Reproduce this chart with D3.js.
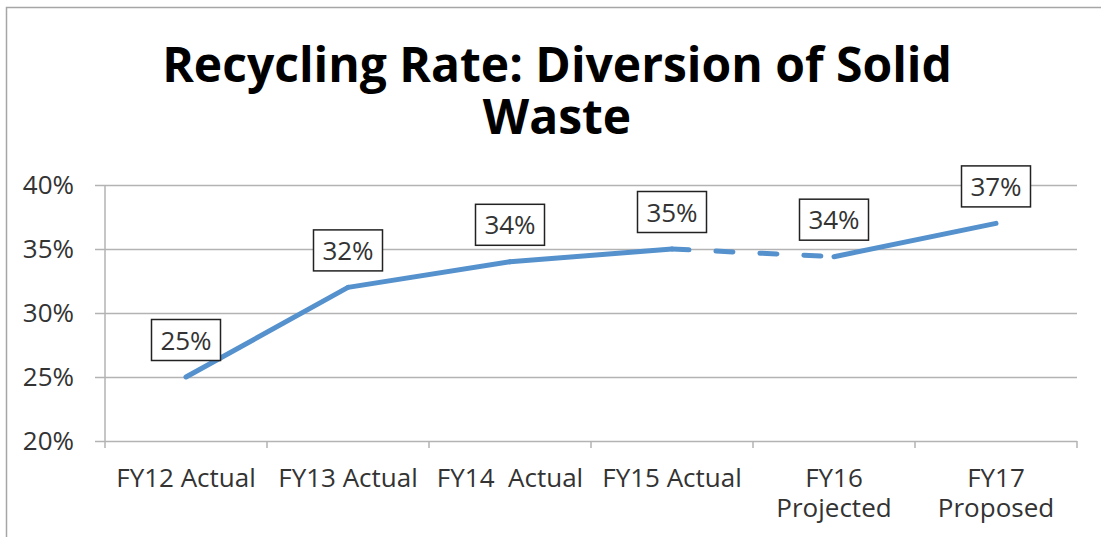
<!DOCTYPE html>
<html>
<head>
<meta charset="utf-8">
<script src="https://cdn.jsdelivr.net/npm/d3@7"></script>
<style>
  body { margin: 0; background: #fff; }
  svg { display: block; font-family: "Open Sans", sans-serif; }
</style>
</head>
<body>
<div id="chart"></div>
<script>
// data
const categories = ["FY12 Actual", "FY13 Actual", "FY14  Actual", "FY15 Actual", "FY16\nProjected", "FY17\nProposed"]
const status = ["Actual", "Actual", "Actual", "Actual", "Projected", "Proposed"]
const rates = [0.25, 0.32, 0.34, 0.35, 0.344, 0.37]
const yTicks = [0.20, 0.25, 0.30, 0.35, 0.40]
const titleLines = ["Recycling Rate: Diversion of Solid", "Waste"]

const W = 1101, H = 537
const margin = {top: 185, right: 24, bottom: 96, left: 105}
const lineColor = "#5591cd"
const gridColor = "#b3b3b3"
const textColor = "#333"

const svg = d3.select("#chart").append("svg")
    .attr("width", W)
    .attr("height", H)

// chart area border (cut off on the right / bottom like the screenshot)
svg.append("rect")
    .attr("x", 6.5).attr("y", 7.5)
    .attr("width", W + 20).attr("height", H + 20)
    .attr("fill", "#fff")
    .attr("stroke", "#a6a6a6")
    .attr("stroke-width", 1.5)

let x = d3.scaleBand()
    .domain(categories)
    .range([margin.left, W - margin.right])

let y = d3.scaleLinear()
    .domain([0.2, 0.4])
    .range([H - margin.bottom, margin.top])

// title, one text per line
svg.selectAll(".title")
    .data(titleLines)
    .enter()
    .append("text")
        .attr("class", "title")
        .attr("x", 557)
        .attr("y", (d, i) => 82 + i * 52)
        .attr("text-anchor", "middle")
        .style("font-size", "48px")
        .style("font-weight", "bold")
        .attr("fill", "#000")
        .text(d => d)

// y axis with gridlines
let gridLen = x.range()[1] - x.range()[0] + 10
let yAxis = svg.append("g")
    .attr("transform", "translate(" + x.range()[1] + ",0)")
    .call(d3.axisLeft(y)
        .tickValues(yTicks)
        .tickSize(gridLen)
        .tickPadding(21)
        .tickFormat(d3.format(".0%")))

yAxis.select(".domain").remove()
yAxis.selectAll("line").attr("stroke", gridColor).attr("stroke-width", 1.5)
yAxis.selectAll("text")
    .attr("fill", textColor)
    .style("font-size", "26px")
    .style("font-family", "'Open Sans', sans-serif")
    .attr("dy", "0.34em")

// vertical axis line
svg.append("line")
    .attr("x1", x.range()[0]).attr("x2", x.range()[0])
    .attr("y1", y.range()[1]).attr("y2", y.range()[0])
    .attr("stroke", gridColor)
    .attr("stroke-width", 1.5)

// category boundary ticks
let bounds = d3.range(categories.length + 1).map(i => x.range()[0] + i * x.step())
svg.selectAll(".xtick")
    .data(bounds)
    .enter()
    .append("line")
        .attr("class", "xtick")
        .attr("x1", d => d).attr("x2", d => d)
        .attr("y1", y(0.2)).attr("y2", y(0.2) + 7)
        .attr("stroke", gridColor)
        .attr("stroke-width", 1.5)

// category labels
svg.selectAll(".xlabel")
    .data(categories)
    .enter()
    .append("text")
        .attr("class", "xlabel")
        .attr("text-anchor", "middle")
        .attr("fill", textColor)
        .style("font-size", "26px")
        .style("white-space", "pre")
        .each(function (d) {
            let cx = x(d) + x.bandwidth() / 2
            d.split("\n").forEach((t, i) => {
                d3.select(this).append("tspan")
                    .attr("x", cx)
                    .attr("y", y(0.2) + 46 + i * 30)
                    .text(t)
            })
        })

// line segments, dashed where it runs into a projected value
let pts = rates.map((v, i) => ({x: x(categories[i]) + x.bandwidth() / 2, y: y(v), status: status[i]}))
let segs = d3.pairs(pts)

svg.selectAll(".seg")
    .data(segs)
    .enter()
    .append("line")
        .attr("class", "seg")
        .attr("x1", d => d[0].x).attr("y1", d => d[0].y)
        .attr("x2", d => d[1].x).attr("y2", d => d[1].y)
        .attr("stroke", lineColor)
        .attr("stroke-width", 5)
        .attr("stroke-linecap", "round")
        .attr("stroke-dasharray", d => d[1].status == "Projected" ? "17,27" : null)

// data labels in boxes
let labels = svg.selectAll(".dlabel")
    .data(pts)
    .enter()
    .append("g")
        .attr("class", "dlabel")
        .attr("transform", d => "translate(" + d.x + "," + (d.y - 37) + ")")

labels.append("rect")
    .attr("x", -34.5).attr("y", -20.5)
    .attr("width", 69).attr("height", 41)
    .attr("fill", "#fff")
    .attr("stroke", "#222")
    .attr("stroke-width", 1.5)

labels.append("text")
    .attr("text-anchor", "middle")
    .attr("y", 9.5)
    .attr("fill", textColor)
    .style("font-size", "26px")
    .text((d, i) => d3.format(".0%")(rates[i]))
</script>
</body>
</html>
